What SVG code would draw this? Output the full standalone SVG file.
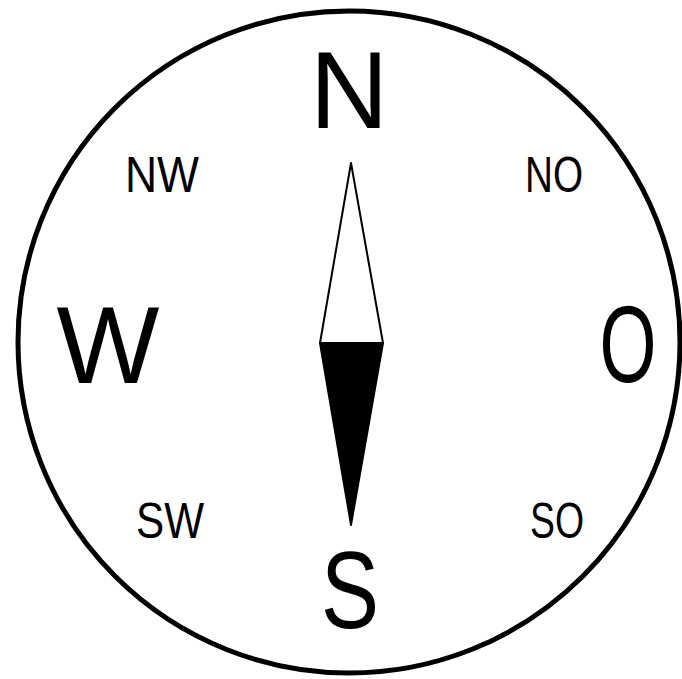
<svg xmlns="http://www.w3.org/2000/svg" width="682" height="679" viewBox="0 0 682 679">
  <style>
    .lbl { font-family: "Liberation Sans", Arial, sans-serif; fill: #000; text-anchor: middle; }
    .big { font-size: 109px; }
    .small { font-size: 50px; }
  </style>
  <rect width="682" height="679" fill="#fff"/>
  <g id="dial">
    <circle cx="349" cy="342" r="331" fill="none" stroke="#000" stroke-width="5"/>
  </g>
  <g id="needle">
    <polygon points="351,163 320,343 383,343" fill="#fff" stroke="#000" stroke-width="2" stroke-linejoin="round"/>
    <polygon points="320,343 383,343 351,525" fill="#000" stroke="#000" stroke-width="2" stroke-linejoin="round"/>
  </g>
  <g id="label-N"><text class="lbl big" x="349" y="128">N</text></g>
  <g id="label-S"><text class="lbl big" x="350" y="628" textLength="58" lengthAdjust="spacingAndGlyphs">S</text></g>
  <g id="label-W"><text class="lbl big" x="108" y="383">W</text></g>
  <g id="label-O"><text class="lbl big" x="628" y="382" textLength="57" lengthAdjust="spacingAndGlyphs">O</text></g>
  <g id="label-NW"><text class="lbl small" x="162" y="192" textLength="74" lengthAdjust="spacingAndGlyphs">NW</text></g>
  <g id="label-NO"><text class="lbl small" x="554" y="192" textLength="58" lengthAdjust="spacingAndGlyphs">NO</text></g>
  <g id="label-SW"><text class="lbl small" x="170" y="538" textLength="68" lengthAdjust="spacingAndGlyphs">SW</text></g>
  <g id="label-SO"><text class="lbl small" x="557" y="538" textLength="54" lengthAdjust="spacingAndGlyphs">SO</text></g>
</svg>
